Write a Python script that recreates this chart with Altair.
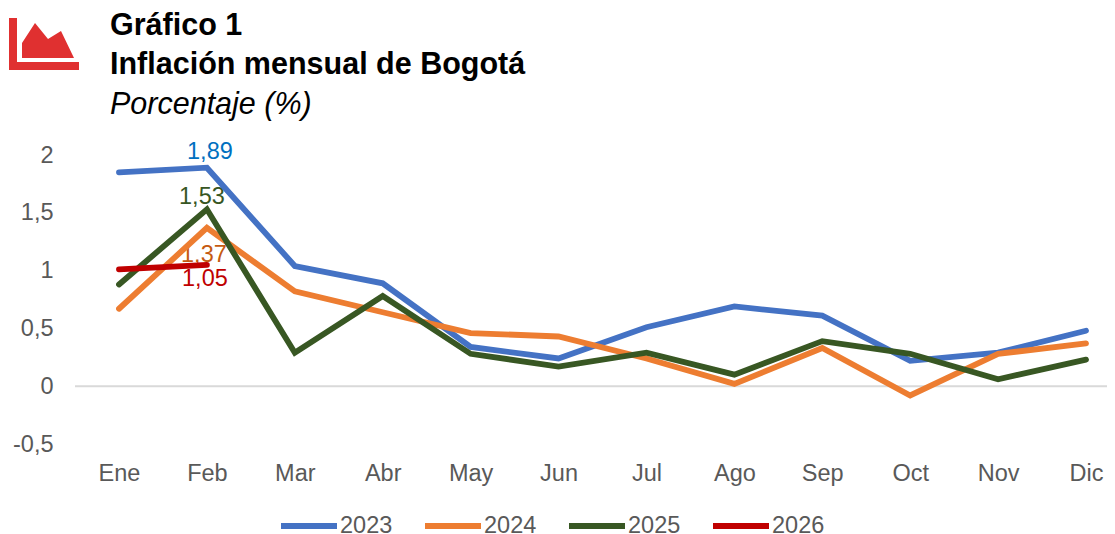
import altair as alt
import pandas as pd

months = ["Ene", "Feb", "Mar", "Abr", "May", "Jun", "Jul", "Ago", "Sep", "Oct", "Nov", "Dic"]
y2023 = [1.85, 1.89, 1.04, 0.89, 0.34, 0.24, 0.51, 0.69, 0.61, 0.22, 0.29, 0.48]
y2024 = [0.67, 1.37, 0.82, 0.64, 0.46, 0.43, 0.24, 0.02, 0.33, -0.08, 0.28, 0.37]
y2025 = [0.88, 1.53, 0.29, 0.78, 0.28, 0.17, 0.29, 0.10, 0.39, 0.28, 0.06, 0.23]
y2026 = [1.01, 1.05]
years = ["2023", "2024", "2025", "2026"]
line_colors = ["#4472C4", "#ED7D31", "#385723", "#C00000"]

label_text = ["1,89", "1,53", "1,37", "1,05"]
label_value = [1.89, 1.53, 1.37, 1.05]
label_color = ["#0070C0", "#375623", "#C55A11", "#C00000"]
label_dx = [3, -5, -3, -2]
label_dy = [-16, -12, 27, 14]

title_lines = ["Gráfico 1", "Inflación mensual de Bogotá", "Porcentaje (%)"]
title_y = [-129, -90, -50]
title_style = [("bold", "normal"), ("bold", "normal"), ("normal", "italic")]

FONT = "Liberation Sans"
FS = 23.5
W, H = 1032, 289
YDOM = [-0.5, 2]

rows = []
for yr, vals in zip(years, [y2023, y2024, y2025, y2026]):
    for m, v in zip(months, vals):
        rows.append({"mes": m, "valor": v, "serie": yr})
df = pd.DataFrame(rows)

x_enc = alt.X("mes:N", title=None,
              scale=alt.Scale(type="point", domain=months, range=[44, 1011], padding=0),
              axis=alt.Axis(domain=False, ticks=False, grid=False, labelAngle=0, labelFont=FONT,
                            labelFontSize=FS, labelColor="#595959", labelPadding=17))
y_enc = alt.Y("valor:Q", title=None,
              scale=alt.Scale(domain=YDOM, nice=False, zero=False),
              axis=alt.Axis(values=[-0.5, 0, 0.5, 1, 1.5, 2],
                            labelExpr="replace(replace(datum.label, '.', ','), '\u2212', '-')",
                            format=".1~f", domain=False, ticks=False, grid=False, labelFont=FONT,
                            labelFontSize=FS, labelColor="#595959", labelPadding=22))

zero = alt.Chart(pd.DataFrame({"z": [0]})).mark_rule(color="#D9D9D9", strokeWidth=2).encode(
    y=alt.Y("z:Q", scale=alt.Scale(domain=YDOM, nice=False, zero=False)),
    x=alt.value(0), x2=alt.value(W))

layers = [zero]
for i in range(4):
    d = pd.DataFrame({"mes": ["Feb"], "valor": [label_value[i]], "t": [label_text[i]]})
    layers.append(alt.Chart(d).mark_text(font=FONT, fontSize=FS, color=label_color[i],
                                         dx=label_dx[i], dy=label_dy[i]).encode(x=x_enc, y=y_enc, text="t:N"))

lines = alt.Chart(df).mark_line(strokeWidth=5.8, strokeCap="round", strokeJoin="miter").encode(
    x=x_enc, y=y_enc,
    color=alt.Color("serie:N", scale=alt.Scale(domain=years, range=line_colors),
                    legend=alt.Legend(title=None, orient="none", legendX=203, legendY=340,
                                      direction="horizontal", symbolType="stroke", symbolSize=3136,
                                      symbolStrokeWidth=6, labelFont=FONT, labelFontSize=FS,
                                      labelColor="#595959", labelOffset=0, columnPadding=20,
                                      symbolOpacity=1)))
layers.append(lines)

icon = pd.DataFrame({"a": [0]})
ICON_RED = "#E03030"
layers.append(alt.Chart(icon).mark_rect(color=ICON_RED).encode(
    x=alt.value(-66), x2=alt.value(-58), y=alt.value(-137), y2=alt.value(-85)))
layers.append(alt.Chart(icon).mark_rect(color=ICON_RED).encode(
    x=alt.value(-66), x2=alt.value(4), y=alt.value(-93), y2=alt.value(-85)))
layers.append(alt.Chart(icon).mark_point(
    shape="M-26 3 L-13 -17 L0 -1 L13 -9 L26 18 L-26 18 Z", size=4, filled=True, fill=ICON_RED,
    stroke=None, opacity=1).encode(x=alt.value(-27), y=alt.value(-115)))

for line, ty, (fw, fst) in zip(title_lines, title_y, title_style):
    layers.append(alt.Chart(pd.DataFrame({"t": [line]})).mark_text(
        font=FONT, fontSize=30.5, fontWeight=fw, fontStyle=fst, color="#000000", align="left", baseline="middle"
    ).encode(x=alt.value(35), y=alt.value(ty), text="t:N"))

chart = alt.layer(*layers).properties(
    width=W, height=H,
    autosize=alt.AutoSizeParams(type="none"),
    padding={"left": 67, "top": 147, "right": 0, "bottom": 90},
    background="white",
).configure_view(stroke=None)

chart.save("out.html", embed_options={"renderer": "svg", "actions": False})
